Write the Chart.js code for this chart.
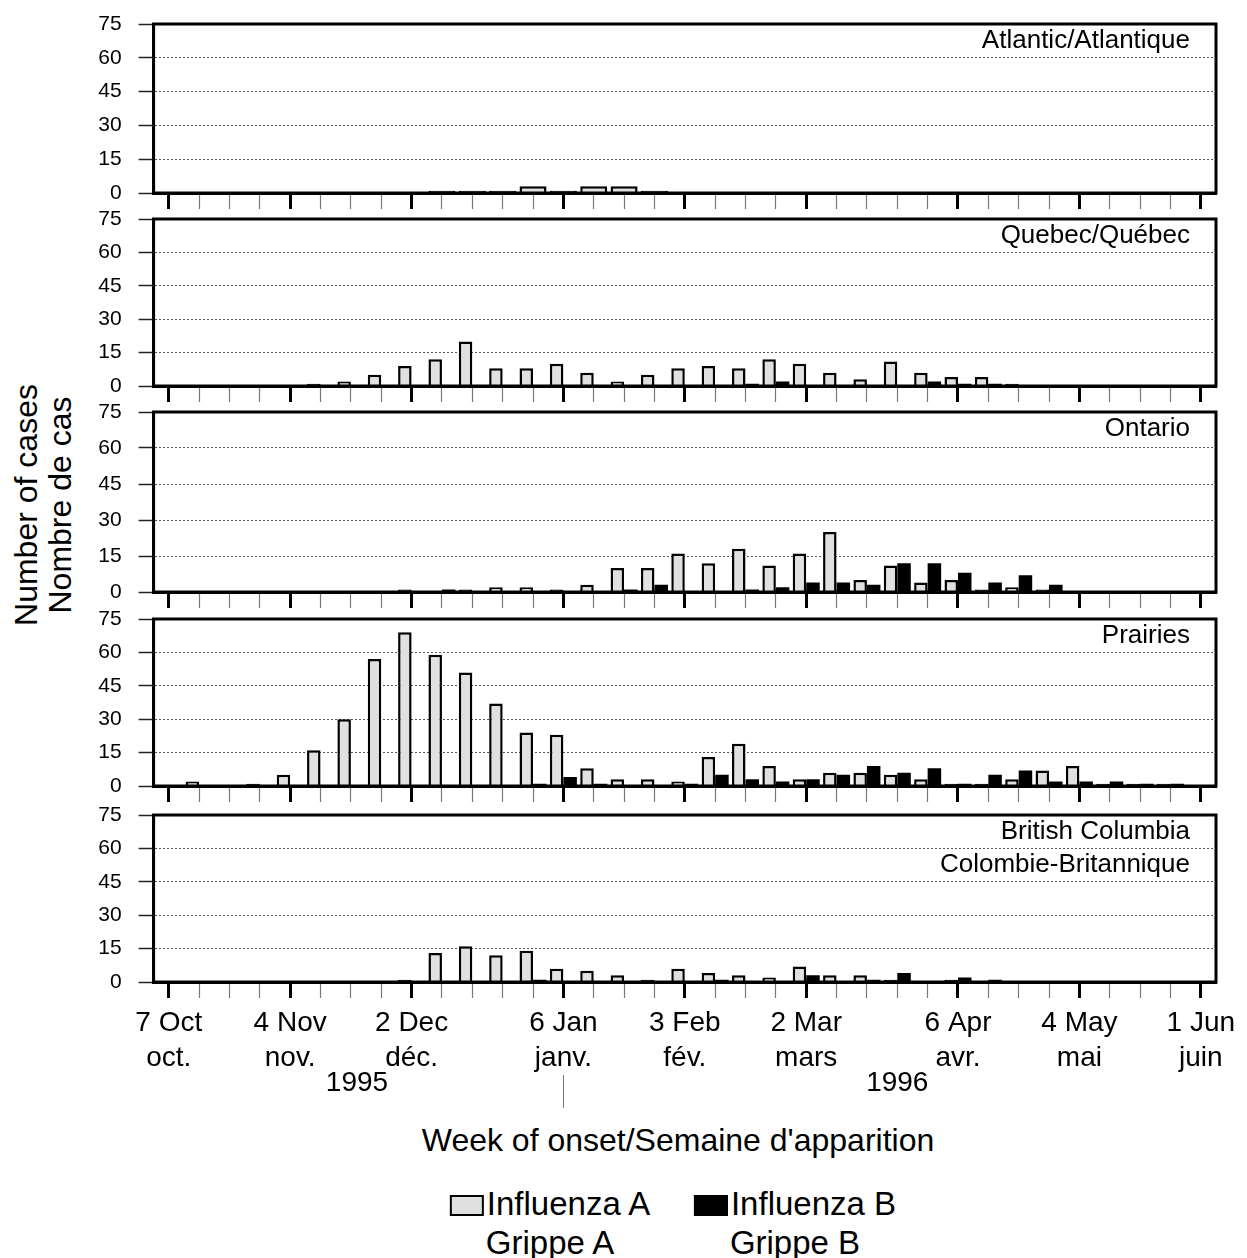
<!DOCTYPE html>
<html>
<head>
<meta charset="utf-8">
<script src="https://cdn.jsdelivr.net/npm/chart.js@4.4.1/dist/chart.umd.min.js"></script>
<style>
html,body{margin:0;padding:0;background:#fff;}
body{width:1247px;height:1258px;position:relative;overflow:hidden;font-family:"Liberation Sans",Arial,sans-serif;color:#000;}
.panel{position:absolute;left:0;width:1247px;}
.ytitle{position:absolute;left:43px;top:505px;transform:translate(-50%,-50%) rotate(-90deg);font-size:32px;line-height:34px;text-align:center;white-space:nowrap;}
.xtitle{position:absolute;left:678px;top:1140px;transform:translate(-50%,-50%);font-size:32px;white-space:nowrap;}
.leg{position:absolute;top:1184px;transform:translateX(-50%);font-size:33px;line-height:39px;text-align:center;white-space:nowrap;}
.box{display:inline-block;width:30px;height:17px;border:2px solid #000;margin-right:3px;vertical-align:-1px;box-sizing:content-box;}
</style>
</head>
<body>
<div class="ytitle">Number of cases<br>Nombre de cas</div>
<div class="xtitle">Week of onset/Semaine d'apparition</div>
<div class="leg" style="left:550px"><span class="box" style="background:#e0e0e0"></span>Influenza A<br>Grippe A</div>
<div class="leg" style="left:795px"><span class="box" style="background:#000"></span>Influenza B<br>Grippe B</div>
<script>
// ---------- data ----------
const weeks = ['1995-10-07','1995-10-14','1995-10-21','1995-10-28','1995-11-04','1995-11-11','1995-11-18','1995-11-25',
  '1995-12-02','1995-12-09','1995-12-16','1995-12-23','1995-12-30','1996-01-06','1996-01-13','1996-01-20','1996-01-27',
  '1996-02-03','1996-02-10','1996-02-17','1996-02-24','1996-03-02','1996-03-09','1996-03-16','1996-03-23','1996-03-30',
  '1996-04-06','1996-04-13','1996-04-20','1996-04-27','1996-05-04','1996-05-11','1996-05-18','1996-05-25','1996-06-01'];
const tickWeeks = ['1995-10-07','1995-11-04','1995-12-02','1996-01-06','1996-02-03','1996-03-02','1996-04-06','1996-05-04','1996-06-01'];
const tickEn = ['7 Oct','4 Nov','2 Dec','6 Jan','3 Feb','2 Mar','6 Apr','4 May','1 Jun'];
const tickFr = ['oct.','nov.','déc.','janv.','fév.','mars','avr.','mai','juin'];
const yearLabels = ['1995','1996'];
const yearWeekPos = [6.2, 24.0];
const yearDivideWeek = '1996-01-06';
const regions = [['Atlantic/Atlantique'],['Quebec/Québec'],['Ontario'],['Prairies'],['British Columbia','Colombie-Britannique']];

const atlanticA = [0,0,0,0,0,0,0,0,0,1,1,1,3,1,3,3,1,0,0,0,0,0,0,0,0,0,0,0,0,0,0,0,0,0,0];
const atlanticB = [0,0,0,0,0,0,0,0,0,0,0,0,0,0,0,0,0,0,0,0,0,0,0,0,0,0,0,0,0,0,0,0,0,0,0];
const quebecA   = [0,0,0,0,0,1,2,5,9,12,20,8,8,10,6,2,5,8,9,8,12,10,6,3,11,6,4,4,1,0,0,0,0,0,0];
const quebecB   = [0,0,0,0,0,0,0,0,0,0,0,0,0,0,0,0,0,0,0,1,2,0,0,0,0,2,1,1,0,0,0,0,0,0,0];
const ontarioA  = [0,0,0,0,0,0,0,0,1,0,1,2,2,1,3,10,10,16,12,18,11,16,25,5,11,4,5,1,2,1,0,0,0,0,0];
const ontarioB  = [0,0,0,0,0,0,0,0,0,1,0,0,0,0,0,1,3,0,0,1,2,4,4,3,12,12,8,4,7,3,0,0,0,0,0];
const prairiesA = [0,2,0,1,5,16,30,57,69,59,51,37,24,23,8,3,3,2,13,19,9,3,6,6,5,3,1,1,3,7,9,1,1,1,0];
const prairiesB = [0,0,0,0,0,0,0,0,0,0,0,0,1,4,1,0,0,1,5,3,2,3,5,9,6,8,1,5,7,2,2,2,1,1,0];
const bcA       = [0,0,0,0,0,0,0,0,1,13,16,12,14,6,5,3,1,6,4,3,2,7,3,3,1,0,1,0,0,0,0,0,0,0,0];
const bcB       = [0,0,0,0,0,0,0,0,0,0,0,0,1,0,0,0,0,0,1,0,0,3,0,1,4,0,2,1,0,0,0,0,0,0,0];
const yTicks = [0,15,30,45,60,75];

const seriesA = [atlanticA, quebecA, ontarioA, prairiesA, bcA];
const seriesB = [atlanticB, quebecB, ontarioB, prairiesB, bcB];

// ---------- layout ----------
const panelBox = [{top:24,bottom:193},{top:219,bottom:386},{top:412,bottom:592},{top:619,bottom:786},{top:815,bottom:982}];
const PADTOP = 16, PADRIGHT = 31, YW = 153.6;
Chart.defaults.font.family = "'Liberation Sans', Arial, sans-serif";
Chart.defaults.color = '#000';

const isMajor = i => tickWeeks.indexOf(weeks[i]) >= 0;
const majorLabel = i => { const k = tickWeeks.indexOf(weeks[i]); return k >= 0 ? [tickEn[k], tickFr[k]] : ''; };

const boxPlugin = {id:'box', afterDatasetsDraw(chart){
  const {ctx, chartArea:a} = chart; ctx.save(); ctx.strokeStyle='#000'; ctx.lineWidth=3;
  ctx.strokeRect(a.left, a.top, a.right-a.left, a.bottom-a.top); ctx.restore();
}};
function titlePlugin(lines){ return {id:'ptitle', afterDraw(chart){
  const {ctx, chartArea:a} = chart; ctx.save(); ctx.fillStyle='#000';
  ctx.font = "26px 'Liberation Sans', Arial, sans-serif"; ctx.textAlign='right'; ctx.textBaseline='middle';
  lines.forEach((t,j)=>ctx.fillText(t, a.right-26, a.top+17+j*33)); ctx.restore();
}};}
const yearPlugin = {id:'years', afterDraw(chart){
  const {ctx, chartArea:a} = chart; const xs = chart.scales.x; ctx.save();
  ctx.fillStyle='#000'; ctx.font = "28px 'Liberation Sans', Arial, sans-serif"; ctx.textAlign='center'; ctx.textBaseline='middle';
  yearLabels.forEach((t,j)=>ctx.fillText(t, xs.getPixelForValue(yearWeekPos[j]), a.bottom+101));
  const xd = Math.round(xs.getPixelForValue(weeks.indexOf(yearDivideWeek)))+0.5;
  ctx.strokeStyle='#777'; ctx.lineWidth=1; ctx.beginPath(); ctx.moveTo(xd, a.bottom+93); ctx.lineTo(xd, a.bottom+126); ctx.stroke();
  ctx.restore();
}};

panelBox.forEach((L, i) => {
  const last = i === panelBox.length-1;
  const XH = last ? 140 : 20;
  const div = document.createElement('div'); div.className='panel';
  div.style.top = (L.top - PADTOP) + 'px';
  div.style.height = (PADTOP + (L.bottom - L.top) + XH) + 'px';
  const cv = document.createElement('canvas'); div.appendChild(cv); document.body.appendChild(div);
  const plugins = [boxPlugin, titlePlugin(regions[i])]; if (last) plugins.push(yearPlugin);
  new Chart(cv, {
    type:'bar',
    data:{labels:weeks, datasets:[
      {label:'Influenza A / Grippe A', data:seriesA[i],
       backgroundColor:c => (c.raw !== undefined && c.raw <= 1) ? '#000' : '#e0e0e0',
       borderColor:'#000', borderWidth:2.5, grouped:i!==0},
      {label:'Influenza B / Grippe B', data:seriesB[i], backgroundColor:'#000', borderColor:'#000', borderWidth:0, grouped:i!==0}
    ]},
    options:{
      responsive:true, maintainAspectRatio:false, animation:false, devicePixelRatio:1,
      layout:{padding:{top:PADTOP, right:PADRIGHT, left:0, bottom:0}},
      datasets:{bar:{barPercentage:1, categoryPercentage:0.89, inflateAmount:0}},
      plugins:{legend:{display:false}, tooltip:{enabled:false}},
      scales:{
        x:{offset:true, afterFit:s=>{s.height=XH; s.paddingLeft=0; s.paddingRight=0;},
           grid:{offset:false, drawOnChartArea:false, drawTicks:true, tickLength:16,
                 tickColor:c=>isMajor(c.index)?'#000':'#777', tickWidth:c=>isMajor(c.index)?3:1.2},
           border:{display:true, width:3, color:'#000', z:1},
           ticks:{display:last, autoSkip:false, maxRotation:0, minRotation:0, padding:8, color:'#000',
                  font:{size:28, lineHeight:1.25}, callback:(v,idx)=>majorLabel(idx)}},
        y:{min:0, max:75, afterFit:s=>{s.width=YW; s.paddingTop=0; s.paddingBottom=0;},
           afterBuildTicks:s=>{s.ticks = yTicks.map(v=>({value:v}));},
           grid:{color:'#555', lineWidth:1, drawTicks:true, tickLength:15, tickColor:'#222', tickWidth:1.5, tickBorderDash:[]},
           border:{display:true, width:3, color:'#000', dash:[2,2]},
           ticks:{padding:17, color:'#000', font:{size:21}}}
      }
    },
    plugins
  });
});
</script>
</body>
</html>
